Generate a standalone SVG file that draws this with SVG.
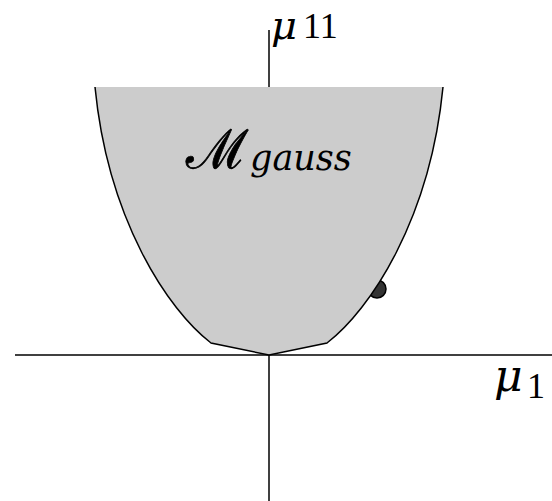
<svg xmlns="http://www.w3.org/2000/svg" width="552" height="501" viewBox="0 0 552 501">
<style>
.ax{stroke:#000;stroke-width:1.5;fill:none}
.m{font-family:"DejaVu Serif","Liberation Serif",serif;font-style:italic;fill:#000}
.n{font-family:"Liberation Serif","DejaVu Serif",serif;fill:#000}
.cal{font-family:"DejaVu Serif","Noto Sans",serif;font-style:italic;fill:#000;stroke:#000;stroke-width:0.8}
</style>
<g id="axes" class="connectors">
<line class="ax" x1="15" y1="355" x2="552" y2="355"/>
<line class="ax" x1="269" y1="30" x2="269" y2="501"/>
</g>
<g id="point">
<circle cx="377" cy="289" r="9" fill="#333" stroke="#000" stroke-width="1.5"/>
</g>
<g id="region">
<path d="M95,87 L443,87 C430,220 370,310 327,343 L269,355 L211,343 C168,310 108,220 95,87 Z" fill="#cccccc"/>
<path d="M95,87 C108,220 168,310 211,343 L269,355 L327,343 C370,310 430,220 443,87" fill="none" stroke="#000" stroke-width="1.5"/>
</g>
<g id="label-mu11">
<text x="271" y="39" font-size="40" class="m">μ</text>
<text x="303" y="38" font-size="36" class="n">11</text>
</g>
<g id="label-mgauss">
<text x="186" y="168" font-size="54" class="cal">ℳ</text>
<text x="250" y="170" font-size="35" class="m">gauss</text>
</g>
<g id="label-mu1">
<text x="494" y="391" font-size="44" class="m">μ</text>
<text x="527" y="398" font-size="36" class="n">1</text>
</g>
</svg>
